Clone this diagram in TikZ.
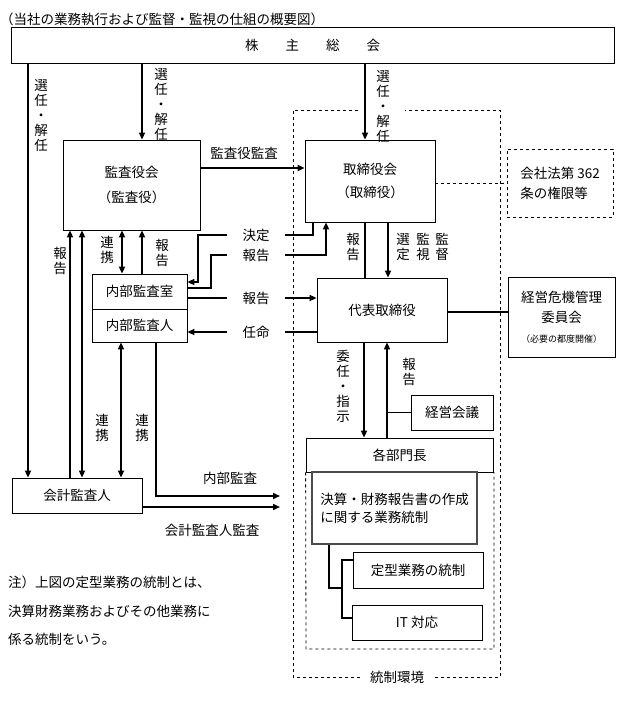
\documentclass[tikz,border=0pt]{standalone}
\usepackage{fontspec}
\setmainfont{Noto Sans CJK JP}
\usetikzlibrary{arrows.meta}

\tikzset{
  box/.style={draw, line width=0.8pt, inner sep=0pt, align=center},
  dbox/.style={box, dashed},
  ln/.style={line width=1.6pt},
  arr/.style={ln, -{Triangle[length=7pt,width=6pt]}},
  dbl/.style={ln, {Triangle[length=7pt,width=6pt]}-{Triangle[length=7pt,width=6pt]}},
  tag/.style={inner sep=0pt, align=center},
  gap/.style={inner xsep=15pt, inner ysep=0pt},
}

\begin{document}
\begin{tikzpicture}[x=1pt, y=-1pt, font=\fontsize{13.5}{15}\selectfont]
\useasboundingbox (0,0) rectangle (640,708);

\node[anchor=west, inner sep=0pt] (title) at (0,19) {（当社の業務執行および監督・監視の仕組の概要図）};
\node[box, minimum width=603, minimum height=36] (kabu) at (312.5,45) {株\hspace{2em}主\hspace{2em}総\hspace{2em}会};

\node[box, minimum width=137, minimum height=90] (kansa) at (131.5,185) {監査役会\\[10pt]（監査役）};
\node[box, minimum width=130, minimum height=82] (tori) at (370,181) {取締役会\\[8pt]（取締役）};
\node[dbox, minimum width=106, minimum height=68, align=left] (ho) at (560,183) {会社法第 362\\[5pt]条の権限等};
\node[box, minimum width=107, minimum height=80] (kiki) at (561.5,317) {経営危機管理\\[5pt]委員会\\[5pt]{\fontsize{9}{15}\selectfont （必要の都度開催）}};
\node[box, minimum width=130, minimum height=64] (daihyo) at (382,310) {代表取締役};
\node[box, minimum width=82, minimum height=35] (kaigi) at (452,412.5) {経営会議};
\node[box, minimum width=187, minimum height=34] (kakubu) at (399.5,455) {各部門長};
\node[box, draw=gray!60!black, line width=1.2pt, minimum width=165, minimum height=72, align=left] (kessan) at (394.5,508) {決算・財務報告書の作成\\[3pt]に関する業務統制};
\node[box, minimum width=130, minimum height=36] (teikei) at (418,570) {定型業務の統制};
\node[box, minimum width=130, minimum height=35] (it) at (417,622.5) {IT 対応};
\node[box, minimum width=95, minimum height=35] (shitsu) at (139.5,291.5) {内部監査室};
\node[box, minimum width=95, minimum height=33] (jin) at (139.5,325.5) {内部監査人};
\node[box, minimum width=130, minimum height=35] (kaikei) at (77,495.5) {会計監査人};

\draw[dashed, line width=0.8pt] (358,110) -- (293,110) -- (293,677) -- (500,677) -- (500,110) -- (405,110);
\draw[dashed, line width=0.8pt] (kakubu.south west) -- (306,649) -- (494,649) -- (494,472);
\node[fill=white, inner xsep=8pt, inner ysep=1pt] (kankyo) at (397,677) {統制環境};

\draw[arr] (28,0 |- kabu.south) -- (28,0 |- kaikei.north);
\draw[arr] (142,0 |- kabu.south) -- (142,0 |- kansa.north);
\draw[arr] (365,0 |- kabu.south) -- (365,0 |- tori.north);
\draw[arr] (kansa.east |- 0,168) -- (tori.west |- 0,168);
\draw[dashed, line width=0.8pt] (tori.east |- ho.west) -- (ho.west);
\draw[ln] (daihyo.east |- 0,312) -- (kiki.west |- 0,312);

\draw[ln] (365,0 |- tori.south) -- (365,0 |- daihyo.north);
\draw[arr] (388,0 |- tori.south) -- (388,0 |- daihyo.north);
\draw[arr] (364,0 |- daihyo.south) -- (364,0 |- kakubu.north);
\draw[arr] (387,0 |- kakubu.north) -- (387,0 |- daihyo.south);
\draw[ln] (kaigi.west) -- (387,0 |- kaigi.west);

\node[gap] (kettei) at (256,235) {決定};
\node[gap] (hk1) at (256,255) {報告};
\node[gap] (hk2) at (256,298) {報告};
\node[gap] (nin) at (256,332) {任命};
\draw[ln] (313,0 |- tori.south) |- (kettei.east);
\draw[arr] (kettei.west) -| (198,282) -- (shitsu.east |- 0,282);
\draw[ln] (shitsu.east |- 0,288) -| (211,255) -- (hk1.west);
\draw[arr] (hk1.east) -| (326,0 |- tori.south);
\draw[ln] (shitsu.east |- hk2) -- (hk2.west);
\draw[arr] (hk2.east) -- (daihyo.west |- hk2);
\draw[ln] (daihyo.west |- nin) -- (nin.east);
\draw[arr] (nin.west) -- (jin.east |- nin);

\draw[arr] (70,0 |- kaikei.north) -- (70,0 |- kansa.south);
\draw[dbl] (82,0 |- kansa.south) -- (82,0 |- kaikei.north);
\draw[dbl] (122,0 |- kansa.south) -- (122,0 |- shitsu.north);
\draw[arr] (142,0 |- shitsu.north) -- (142,0 |- kansa.south);
\draw[dbl] (121,0 |- jin.south) -- (121,0 |- kaikei.north);

\draw[arr] (156,0 |- jin.south) |- (280,496);
\draw[arr] (kaikei.east |- 0,507) -- (280,507);

\draw[line width=1.4pt] (329,0 |- kessan.south) |- (342,588);
\draw[line width=1.4pt] (teikei.west |- 0,560) -| (342,618) -- (it.west |- 0,618);

\node[tag] (senin1) at (41,116) {選\\任\\・\\解\\任};
\node[tag] (senin2) at (161,105) {選\\任\\・\\解\\任};
\node[tag] (senin3) at (383,107) {選\\任\\・\\解\\任};
\node[tag] (kansakansa) at (244,153) {監査役監査};
\node[tag] (hk3) at (60,261) {報\\告};
\node[tag] (renkei1) at (107,250) {連\\携};
\node[tag] (hk4) at (162,253) {報\\告};
\node[tag] (renkei2) at (102,428) {連\\携};
\node[tag] (renkei3) at (142,428) {連\\携};
\node[tag] (hk5) at (353,247) {報\\告};
\node[tag] (sentei) at (403,247) {選\\定};
\node[tag] (kanshi) at (423,247) {監\\視};
\node[tag] (kantoku) at (442,247) {監\\督};
\node[tag] (inin) at (343,386) {委\\任\\・\\指\\示};
\node[tag] (hk6) at (409,372) {報\\告};
\node[tag] (naibu) at (230,478) {内部監査};
\node[tag] (kaikeikansa) at (212,530) {会計監査人監査};

\node[anchor=west, inner sep=0pt] (note1) at (8,582) {注）上図の定型業務の統制とは、};
\node[anchor=west, inner sep=0pt] (note2) at (8,611) {決算財務業務およびその他業務に};
\node[anchor=west, inner sep=0pt] (note3) at (8,639) {係る統制をいう。};
\end{tikzpicture}
\end{document}
